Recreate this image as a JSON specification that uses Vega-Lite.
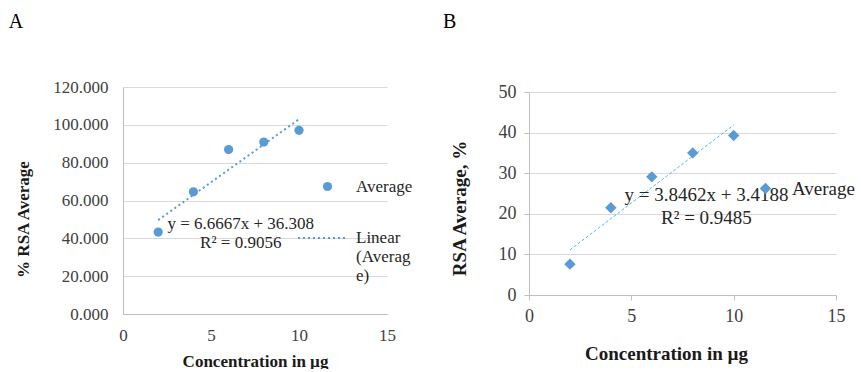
{
  "$schema": "https://vega.github.io/schema/vega-lite/v6.json",
  "padding": {"left": 8, "top": 11, "right": 0, "bottom": 0},
  "spacing": 30,
  "config": {
    "view": {"stroke": null},
    "font": "Liberation Serif",
    "axis": {"labelFont": "Liberation Serif", "titleFont": "Liberation Serif", "labelColor": "#404040", "titleColor": "#1a1a1a", "titleFontWeight": "bold", "labelFlush": false, "labelOverlap": false, "gridColor": "#d9d9d9", "domainColor": "#bfbfbf", "tickColor": "#bfbfbf"},
    "legend": {"labelFont": "Liberation Serif", "labelColor": "#262626", "padding": 0, "title": null},
    "title": {"font": "Liberation Serif", "fontSize": 20, "fontWeight": "normal", "color": "#000000", "anchor": "start", "frame": "bounds"}
  },
  "datasets": {
    "a_points": [
      {"conc": 2, "rsa": 43.3, "series": "Average"},
      {"conc": 4, "rsa": 64.6, "series": "Average"},
      {"conc": 6, "rsa": 86.9, "series": "Average"},
      {"conc": 8, "rsa": 90.9, "series": "Average"},
      {"conc": 10, "rsa": 97.1, "series": "Average"}
    ],
    "a_trend": [
      {"conc": 2, "rsa": 49.64, "series": "Linear (Average)"},
      {"conc": 10, "rsa": 102.97, "series": "Linear (Average)"}
    ],
    "a_eq": [{"label": ["y = 6.6667x + 36.308", "R² = 0.9056"]}],
    "b_points": [
      {"conc": 2, "rsa": 7.6, "series": "Average"},
      {"conc": 4, "rsa": 21.5, "series": "Average"},
      {"conc": 6, "rsa": 29.1, "series": "Average"},
      {"conc": 8, "rsa": 35.0, "series": "Average"},
      {"conc": 10, "rsa": 39.3, "series": "Average"}
    ],
    "b_trend": [
      {"conc": 2, "rsa": 11.11},
      {"conc": 10, "rsa": 41.88}
    ],
    "b_eq": [{"label": ["y = 3.8462x + 3.4188", "R² = 0.9485"]}]
  },
  "resolve": {
    "scale": {"color": "independent", "strokeDash": "independent", "x": "independent", "y": "independent"},
    "legend": {"color": "independent", "strokeDash": "independent"}
  },
  "hconcat": [
    {
      "title": {"text": "A", "dx": -6, "offset": 46.5},
      "width": 264,
      "height": 227,
      "layer": [
        {
          "data": {"name": "a_points"},
          "mark": {"type": "circle", "size": 85, "opacity": 1},
          "encoding": {
            "x": {"field": "conc", "type": "quantitative", "scale": {"domain": [0, 15], "nice": false},
              "axis": {"title": "Concentration in µg", "values": [0, 5, 10, 15], "tickCount": 10, "grid": false, "ticks": false, "tickSize": 0, "labelFontSize": 17, "titleFontSize": 17, "labelPadding": 13, "titlePadding": 10}},
            "y": {"field": "rsa", "type": "quantitative", "scale": {"domain": [0, 120], "nice": false},
              "axis": {"title": "% RSA Average", "values": [0, 20, 40, 60, 80, 100, 120], "tickCount": 10, "format": ".3f", "grid": true, "ticks": false, "tickSize": 0, "labelFontSize": 17, "titleFontSize": 17, "labelPadding": 15, "titlePadding": 20, "titleY": 132}},
            "color": {"field": "series", "type": "nominal", "scale": {"domain": ["Average"], "range": ["#5b9bd5"]},
              "legend": {"orient": "none", "legendX": 196, "legendY": 91, "symbolType": "circle", "symbolSize": 85, "labelFontSize": 17, "labelOffset": 20}}
          }
        },
        {
          "data": {"name": "a_trend"},
          "mark": {"type": "line", "color": "#5b9bd5", "strokeWidth": 2},
          "encoding": {
            "x": {"field": "conc", "type": "quantitative"},
            "y": {"field": "rsa", "type": "quantitative"},
            "strokeDash": {"field": "series", "type": "nominal", "scale": {"domain": ["Linear (Average)"], "range": [[2, 3]]},
              "legend": {"orient": "none", "legendX": 174, "legendY": 125, "symbolType": "stroke", "symbolSize": 2500, "symbolStrokeColor": "#5b9bd5", "symbolStrokeWidth": 2, "labelFontSize": 17, "labelOffset": 7,
                "labelExpr": "datum.label === 'Linear (Average)' ? ['Linear', '(Averag', 'e)'] : datum.label"}}
          }
        },
        {
          "data": {"name": "a_eq"},
          "mark": {"type": "text", "font": "Liberation Serif", "fontSize": 17, "lineHeight": 19, "align": "center", "baseline": "middle", "color": "#262626"},
          "encoding": {
            "x": {"datum": 6.69, "type": "quantitative"},
            "y": {"datum": 47.4, "type": "quantitative"},
            "text": {"field": "label"}
          }
        }
      ]
    },
    {
      "title": {"text": "B", "dx": -7, "offset": 51},
      "width": 307,
      "height": 208,
      "layer": [
        {
          "data": {"name": "b_trend"},
          "mark": {"type": "line", "color": "#4fb8e8", "strokeWidth": 1, "strokeDash": [3, 2]},
          "encoding": {
            "x": {"field": "conc", "type": "quantitative", "scale": {"domain": [0, 15], "nice": false},
              "axis": {"title": "Concentration in µg", "values": [0, 5, 10, 15], "tickCount": 10, "grid": false, "ticks": true, "tickSize": 5, "labelFontSize": 18, "titleFontSize": 19, "labelPadding": 7, "titlePadding": 19, "titleX": 137}},
            "y": {"field": "rsa", "type": "quantitative", "scale": {"domain": [0, 50], "nice": false, "range": [208, 5]},
              "axis": {"title": "RSA Average, %", "values": [0, 10, 20, 30, 40, 50], "tickCount": 10, "grid": true, "ticks": true, "tickSize": 5, "labelFontSize": 18, "titleFontSize": 19, "labelPadding": 8, "titlePadding": 29, "titleY": 121}}
          }
        },
        {
          "data": {"name": "b_points"},
          "mark": {"type": "point", "shape": "diamond", "filled": true, "size": 130, "opacity": 1},
          "encoding": {
            "x": {"field": "conc", "type": "quantitative"},
            "y": {"field": "rsa", "type": "quantitative"},
            "color": {"field": "series", "type": "nominal", "scale": {"domain": ["Average"], "range": ["#5b9bd5"]},
              "legend": {"orient": "none", "legendX": 227, "legendY": 92, "symbolType": "diamond", "symbolSize": 130, "labelFontSize": 19, "labelOffset": 17}}
          }
        },
        {
          "data": {"name": "b_eq"},
          "mark": {"type": "text", "font": "Liberation Serif", "fontSize": 19, "lineHeight": 23, "align": "center", "baseline": "middle", "color": "#262626"},
          "encoding": {
            "x": {"datum": 8.67, "type": "quantitative"},
            "y": {"datum": 24.6, "type": "quantitative"},
            "text": {"field": "label"}
          }
        }
      ]
    }
  ]
}
